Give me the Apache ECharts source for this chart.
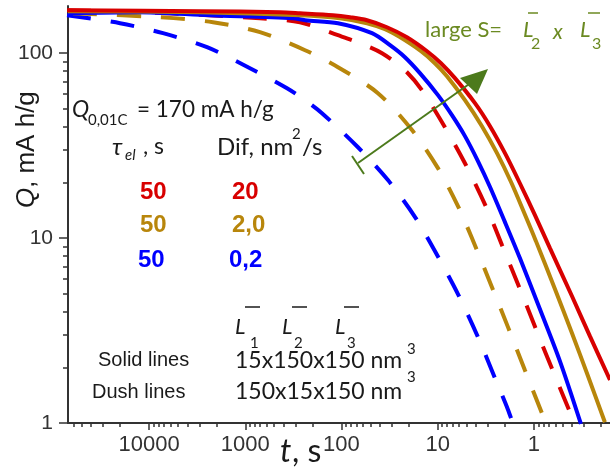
<!DOCTYPE html>
<html><head><meta charset="utf-8">
<script src="https://cdn.jsdelivr.net/npm/echarts@6/dist/echarts.min.js"></script>
<style>html,body{margin:0;padding:0;background:#fff}#c{width:610px;height:468px}</style>
</head><body><div id="c"></div>
<script>
// ---- tick labels ----
const xTickLabels = [1, 10, 100, 1000, 10000];
const yTickLabels = [1, 10, 100];

// ---- series data: t (s) and Q (mA h/g) ----
const redSolidT   = [69500, 2951, 435.5, 270, 122.5, 81.6, 54.3, 33.7, 20.9, 12.9, 9.25, 6.62, 4.10, 2.86, 2.00, 1.40, 0.976, 0.682, 0.403, 0.262, 0.162];
const redSolidQ   = [170.8, 168.7, 166.6, 164.5, 160.5, 156.5, 150.8, 138.2, 122.1, 102.5, 88.3, 73.3, 53.7, 40.3, 28.8, 19.8, 13.3, 8.83, 4.86, 2.95, 1.71];
const brownSolidT = [69500, 2951, 270, 103.7, 54.3, 35.3, 24.7, 14.9, 10.7, 8.01, 5.21, 3.47, 2.42, 1.73, 1.27, 0.953, 0.605, 0.403, 0.275, 0.183];
const brownSolidQ = [168.7, 166.6, 160.5, 154.6, 145.3, 134.8, 122.1, 102.5, 88.3, 75.1, 55.7, 40.3, 28.8, 20.1, 13.8, 9.63, 5.30, 3.07, 1.80, 1.01];
const blueSolidT  = [69500, 13330, 2323, 319, 239, 108.7, 48.2, 31.3, 21.9, 15.3, 9.94, 7.11, 5.21, 3.82, 2.86, 2.00, 1.40, 0.909, 0.537, 0.325];
const blueSolidQ  = [164.5, 166.6, 160.5, 154.6, 150.8, 145.3, 128.3, 110.5, 95.1, 78.0, 59.3, 46.2, 35.6, 26.1, 18.9, 12.2, 7.80, 4.40, 2.16, 0.988];
const redDashT    = [71100, 6500, 703, 270, 108.7, 64.2, 37.9, 21.9, 14.6, 8.41, 5.21, 3.00, 2.15, 1.33, 0.909, 0.605, 0.375];
const redDashQ    = [170.8, 164.5, 154.6, 147.1, 125.1, 113.3, 100, 80.9, 63.1, 39.8, 25.4, 14.0, 9.17, 4.98, 3.03, 1.80, 0.988];
const brownDashT  = [61600, 7690, 2163, 703, 239, 108.7, 41.8, 18.5, 9.94, 6.16, 4.41, 2.73, 1.86, 1.24, 0.826, 0.750];
const brownDashQ  = [164.5, 156.5, 147.1, 129.9, 103.8, 84.0, 60.8, 38.4, 23.9, 14.9, 10.0, 5.43, 3.30, 1.93, 1.13, 0.988];
const blueDashT   = [71100, 20000, 7160, 2497, 893, 368, 239, 159.5, 67.4, 32.9, 17.2, 10.7, 6.16, 3.82, 2.54, 1.86, 1.65];
const blueDashQ   = [160.5, 145.3, 128.3, 107.8, 83.0, 64.7, 55.7, 47.4, 31.0, 20.6, 13.0, 8.51, 4.98, 2.92, 1.75, 1.18, 0.988];

const RED = '#d80000', BROWN = '#b8860b', BLUE = '#0000ff', GREEN = '#4c7a1c', OLIVE = '#6b8a22';
const AX = '#333';
const X_MIN = 0.162, X_MAX = 69500, Y_MIN = 1, Y_MAX = 180;

function allTicks(lo, hi) {
  const out = [];
  for (let e = -1; e <= 5; e++) for (let k = 1; k <= 9; k++) {
    const v = +(k * Math.pow(10, e)).toPrecision(3);
    if (v >= lo && v <= hi) out.push(v);
  }
  return out;
}

function mk(name, T, Q, color, dashed) {
  return {
    name, type: 'line', xAxisIndex: 0, yAxisIndex: 0,
    data: T.map((t, i) => [t, Q[i]]),
    showSymbol: false, smooth: 0.3, clip: true, silent: true,
    lineStyle: { color, width: 4, type: dashed ? [24, 20] : 'solid', cap: 'butt' }
  };
}

const SANS = '"Liberation Sans", Arial, sans-serif';
const CAL = 'Lato, "Noto Sans", sans-serif';
function T(x, y, text, font, fill, align) {
  return { type: 'text', x, y, z: 100, silent: true,
    style: { text, font, fill: fill || '#1a1a1a', align: align || 'left', verticalAlign: 'middle' } };
}
function L(x1, y1, x2, y2, color, w) {
  return { type: 'line', z: 100, silent: true, shape: { x1, y1, x2, y2 }, style: { stroke: color || '#1a1a1a', lineWidth: w || 1.5 } };
}

const graphics = [
  // Y axis title (rotated)
  { type: 'group', x: 27, y: 208, rotation: Math.PI / 2, children: [
    { type: 'text', x: 0, y: 0, style: { text: 'Q', font: 'italic 26px ' + SANS, fill: '#1a1a1a', align: 'left', verticalAlign: 'middle' } },
    { type: 'text', x: 20, y: 0, style: { text: ', mA h/g', font: '26px ' + SANS, fill: '#1a1a1a', align: 'left', verticalAlign: 'middle' } }
  ]},
  // X axis title
  T(280, 452, 't', 'italic 32px ' + CAL),
  T(292, 452, ', s', '32px ' + CAL),
  // Q0,01C line
  T(72, 110, 'Q', 'italic 23px ' + CAL),
  T(88, 120, '0,01C', '15px ' + CAL),
  T(137, 110, '= 170 mA h/g', '22.5px ' + CAL),
  // header row
  T(112, 147, 'τ', 'italic 24px ' + CAL),
  T(125, 155, 'el', 'italic 15px ' + CAL),
  T(143, 147, ', s', '23px ' + CAL),
  T(217, 147, 'Dif, nm', '24px ' + CAL),
  T(292, 134, '2', '15px ' + CAL),
  T(302, 147, '/s', '24px ' + CAL),
  // value rows
  T(140, 192, '50', 'bold 24px ' + SANS, RED),
  T(232, 192, '20', 'bold 24px ' + SANS, RED),
  T(140, 225, '50', 'bold 24px ' + SANS, BROWN),
  T(232, 225, '2,0', 'bold 24px ' + SANS, BROWN),
  T(138, 260, '50', 'bold 24px ' + SANS, BLUE),
  T(229, 260, '0,2', 'bold 24px ' + SANS, BLUE),
  // L-bar header
  T(235, 327, 'L', 'italic 22px ' + CAL), T(250, 343, '1', '15px ' + CAL), L(245, 307, 260, 307),
  T(282, 327, 'L', 'italic 22px ' + CAL), T(294, 343, '2', '15px ' + CAL), L(292, 307, 307, 307),
  T(335, 327, 'L', 'italic 22px ' + CAL), T(347, 343, '3', '15px ' + CAL), L(344, 307, 359, 307),
  // line type rows
  T(98, 360, 'Solid lines', '20px ' + SANS),
  T(92, 392, 'Dush lines', '20px ' + SANS),
  T(235, 361, '15x150x150 nm', '23px ' + CAL), T(407, 349, '3', '15px ' + CAL),
  T(235, 392, '150x15x150 nm', '23px ' + CAL), T(407, 377, '3', '15px ' + CAL),
  // large S annotation
  T(425, 30, 'large S=', '22px ' + CAL, OLIVE),
  T(523, 30, 'L', 'italic 22px ' + CAL, OLIVE), T(531, 44, '2', '16px ' + CAL, OLIVE), L(528, 13, 538, 13, OLIVE),
  T(553, 32, 'x', 'italic 21px ' + CAL, OLIVE),
  T(580, 30, 'L', 'italic 22px ' + CAL, OLIVE), T(592, 44, '3', '16px ' + CAL, OLIVE), L(588, 13, 600, 13, OLIVE),
  // green arrow
  L(358, 163, 472, 82, GREEN, 2),
  L(352, 156, 364, 174, GREEN, 2),
  { type: 'polygon', z: 100, silent: true, shape: { points: [[488, 69], [460, 78], [477, 94]] }, style: { fill: GREEN } }
];

const tickStyle = { color: AX, width: 1.5 };
const option = {
  animation: false,
  backgroundColor: '#fff',
  grid: { left: 68, right: 0, top: 6, bottom: 45, containLabel: false, outerBoundsMode: 'none' },
  xAxis: [
    { type: 'log', logBase: 10, inverse: true, min: X_MIN, max: X_MAX, position: 'bottom',
      axisLine: { show: true, onZero: false, lineStyle: { color: AX, width: 2 } },
      axisTick: { show: true, customValues: allTicks(X_MIN, X_MAX), length: 4, lineStyle: tickStyle },
      axisLabel: { customValues: xTickLabels, formatter: v => String(v), fontSize: 22, fontFamily: 'Liberation Sans', color: '#333', margin: 11 },
      splitLine: { show: false }, minorTick: { show: false } },
    { type: 'log', logBase: 10, inverse: true, min: X_MIN, max: X_MAX, position: 'bottom', offset: 0,
      axisLine: { show: false, onZero: false },
      axisTick: { show: true, customValues: xTickLabels, length: 7, lineStyle: tickStyle },
      axisLabel: { show: false }, splitLine: { show: false } }
  ],
  yAxis: [
    { type: 'log', logBase: 10, min: Y_MIN, max: Y_MAX, position: 'left',
      axisLine: { show: true, onZero: false, lineStyle: { color: AX, width: 2 } },
      axisTick: { show: true, customValues: allTicks(Y_MIN, Y_MAX), length: 5, lineStyle: tickStyle },
      axisLabel: { customValues: yTickLabels, formatter: v => String(v), fontSize: 21, fontFamily: 'Liberation Sans', color: '#333', margin: 15 },
      splitLine: { show: false } },
    { type: 'log', logBase: 10, min: Y_MIN, max: Y_MAX, position: 'left', offset: 0,
      axisLine: { show: false, onZero: false },
      axisTick: { show: true, customValues: yTickLabels, length: 9, lineStyle: tickStyle },
      axisLabel: { show: false }, splitLine: { show: false } }
  ],
  series: [
    mk('Dash, Dif 0.2', blueDashT, blueDashQ, BLUE, true),
    mk('Dash, Dif 2.0', brownDashT, brownDashQ, BROWN, true),
    mk('Dash, Dif 20', redDashT, redDashQ, RED, true),
    mk('Solid, Dif 0.2', blueSolidT, blueSolidQ, BLUE, false),
    mk('Solid, Dif 2.0', brownSolidT, brownSolidQ, BROWN, false),
    mk('Solid, Dif 20', redSolidT, redSolidQ, RED, false)
  ],
  graphic: graphics
};
const chart = echarts.init(document.getElementById('c'), null, { renderer: 'canvas' });
chart.setOption(option);
</script></body></html>
